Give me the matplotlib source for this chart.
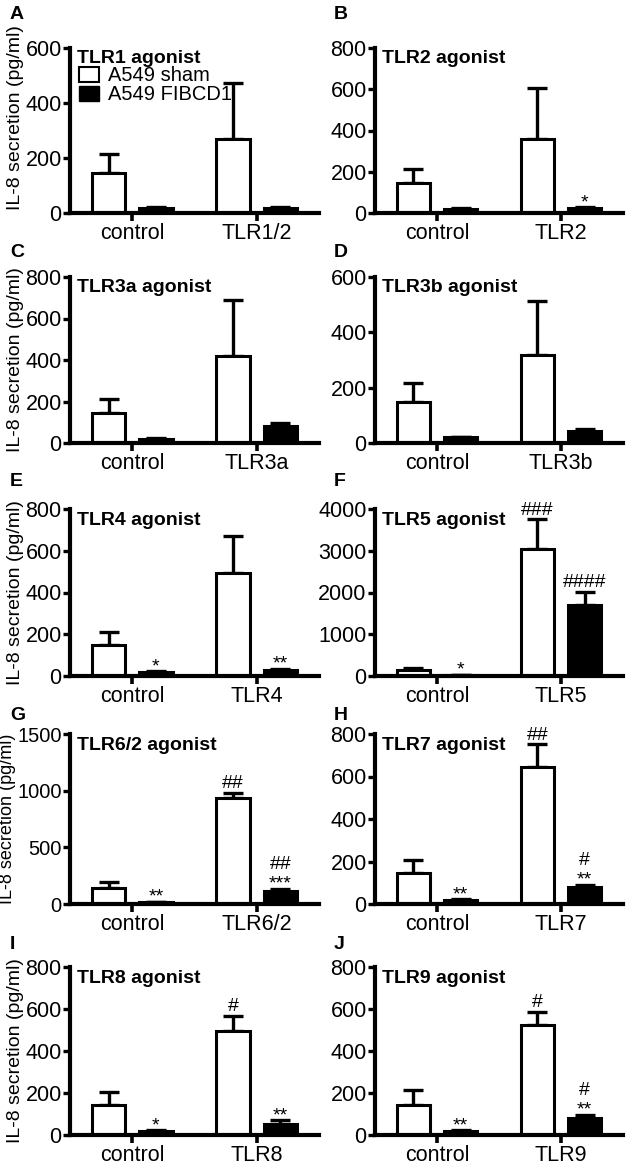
import matplotlib
matplotlib.use("Agg")
import matplotlib.pyplot as plt
import numpy as np
from matplotlib.patches import Patch

plt.rcParams['font.family'] = ['Liberation Sans', 'DejaVu Sans']

# panel data (pg/ml)
letters = ['A', 'B', 'C', 'D', 'E', 'F', 'G', 'H', 'I', 'J']
titles = ['TLR1 agonist', 'TLR2 agonist', 'TLR3a agonist', 'TLR3b agonist', 'TLR4 agonist',
          'TLR5 agonist', 'TLR6/2 agonist', 'TLR7 agonist', 'TLR8 agonist', 'TLR9 agonist']
treat = ['TLR1/2', 'TLR2', 'TLR3a', 'TLR3b', 'TLR4', 'TLR5', 'TLR6/2', 'TLR7', 'TLR8', 'TLR9']
sham = [[147, 268], [145, 357], [145, 419], [150, 318], [148, 493],
        [145, 3050], [140, 936], [144, 647], [143, 495], [145, 525]]
sham_err = [[66, 206], [67, 250], [67, 270], [67, 195], [62, 177],
            [50, 700], [55, 44], [65, 104], [62, 72], [67, 63]]
fib = [[20, 20], [20, 25], [20, 82], [20, 43], [20, 30],
       [20, 1690], [15, 115], [20, 80], [20, 52], [20, 82]]
fib_err = [[3, 3], [3, 4], [3, 14], [3, 7], [3, 5],
           [5, 330], [3, 20], [3, 10], [3, 19], [3, 14]]
ymax = [600, 800, 800, 600, 800, 4000, 1500, 800, 800, 800]
ystep = [200, 200, 200, 200, 200, 1000, 500, 200, 200, 200]
# significance marks per panel: [control, treatment]
stars_sham = [['', ''] for _ in range(10)]
hash_sham = [['', ''], ['', ''], ['', ''], ['', ''], ['', ''],
             ['', '###'], ['', '##'], ['', '##'], ['', '#'], ['', '#']]
stars_fib = [['', ''], ['', '*'], ['', ''], ['', ''], ['*', '**'],
             ['*', ''], ['**', '***'], ['**', '**'], ['*', '**'], ['**', '**']]
hash_fib = [['', ''], ['', ''], ['', ''], ['', ''], ['', ''],
            ['', '####'], ['', '##'], ['', '#'], ['', ''], ['', '#']]

W, H = 626, 1165
fig = plt.figure(figsize=(W / 100, H / 100), dpi=100)

col_x = [(70, 249), (375, 248)]
row_y = [(48, 213), (277, 443), (509, 676), (734, 904), (967, 1135)]
letter_pos = [6, 244, 473, 707, 936]
letter_x = [10, 334]

x = np.arange(2)
bw = 0.27
off = 0.19
fs = 14
tfs = 15.5

for i in range(10):
    r, c = divmod(i, 2)
    x0, w = col_x[c]
    top, zero = row_y[r]
    ax = fig.add_axes([x0 / W, 1 - zero / H, w / W, (zero - top) / H])

    ax.errorbar(x - off, sham[i], yerr=[[0, 0], sham_err[i]], fmt='none', ecolor='black',
                elinewidth=2.4, capsize=7, capthick=2.4, zorder=1)
    ax.errorbar(x + off, fib[i], yerr=[[0, 0], fib_err[i]], fmt='none', ecolor='black',
                elinewidth=2.4, capsize=7, capthick=2.4, zorder=1)
    ax.bar(x - off, sham[i], bw, color='white', edgecolor='black', linewidth=2.2, zorder=2)
    ax.bar(x + off, fib[i], bw, color='black', edgecolor='black', linewidth=2.2, zorder=2)

    # marks above bars
    for j in range(2):
        for xs, m, e, st, hs in [(x[j] - off, sham[i][j], sham_err[i][j], stars_sham[i][j], hash_sham[i][j]),
                                 (x[j] + off, fib[i][j], fib_err[i][j], stars_fib[i][j], hash_fib[i][j])]:
            yt = m + e
            if st:
                ax.annotate(st, (xs, yt), xytext=(0, 0), textcoords='offset points',
                            ha='center', va='baseline', fontsize=fs, annotation_clip=False)
            if hs:
                dy = 14 if st else 3.5
                ax.annotate(hs, (xs, yt), xytext=(0, dy), textcoords='offset points',
                            ha='center', va='baseline', fontsize=fs, annotation_clip=False)

    ax.set_xlim(-0.5, 1.5)
    ax.set_ylim(0, ymax[i])
    ax.set_yticks(np.arange(0, ymax[i] + 1, ystep[i]))
    ax.set_xticks(x)
    ax.set_xticklabels(['control', treat[i]])
    for s in ['top', 'right']:
        ax.spines[s].set_visible(False)
    for s in ['left', 'bottom']:
        ax.spines[s].set_linewidth(3)
    wide = c == 0 and ymax[i] >= 1000
    ax.tick_params(axis='y', length=5, width=2.4, pad=1, labelsize=14.5 if wide else tfs)
    ax.tick_params(axis='x', length=6, width=2.6, pad=1, labelsize=tfs)

    ax.text(0.028, 0.985, titles[i], transform=ax.transAxes, va='top', ha='left',
            fontsize=fs, fontweight='bold')

    if c == 0:
        ax.set_ylabel('IL-8 secretion (pg/ml)', fontsize=13 if wide else fs)
        lx = -0.215 if wide else -0.185
        ax.yaxis.set_label_coords(lx, 0.58 if i == 0 else 0.5)

    if i == 0:
        handles = [Patch(facecolor='white', edgecolor='black', linewidth=1.5),
                   Patch(facecolor='black', edgecolor='black')]
        ax.legend(handles, ['A549 sham', 'A549 FIBCD1'], loc='upper left',
                  bbox_to_anchor=(0.035, 0.89), frameon=False, fontsize=14.5,
                  handlelength=1.0, handleheight=0.75, handletextpad=0.45,
                  labelspacing=0.0, borderpad=0, borderaxespad=0)

    fig.text(letter_x[c] / W, 1 - letter_pos[r] / H, letters[i], fontsize=14,
             fontweight='bold', va='top', ha='left')

fig.savefig('out.png', dpi=100)
